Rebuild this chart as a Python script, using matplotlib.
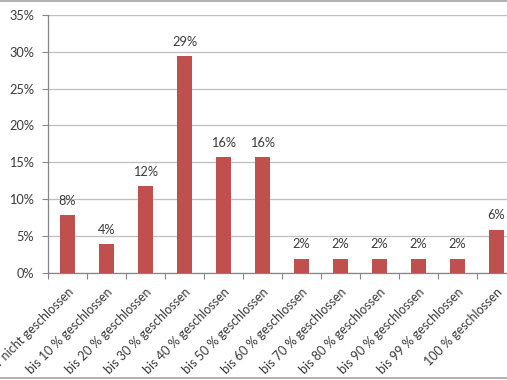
#!/usr/bin/env python3

import matplotlib
matplotlib.use("Agg")
import matplotlib.pyplot as plt
from matplotlib.lines import Line2D
from matplotlib.ticker import FuncFormatter, MultipleLocator
import numpy as np

categories = ["gar nicht geschlossen", "bis 10 % geschlossen", "bis 20 % geschlossen",
              "bis 30 % geschlossen", "bis 40 % geschlossen", "bis 50 % geschlossen",
              "bis 60 % geschlossen", "bis 70 % geschlossen", "bis 80 % geschlossen",
              "bis 90 % geschlossen", "bis 99 % geschlossen", "100 % geschlossen"]
# share of answers in percent (counts out of 51)
shares = [7.84, 3.92, 11.76, 29.41, 15.69, 15.69, 1.96, 1.96, 1.96, 1.96, 1.96, 5.88]

plt.rcParams["font.family"] = ["Lato", "DejaVu Sans"]
text_col = "#3A3A3A"
bar_col = "#C0504D"
grid_col = "#BEBEBE"
axis_col = "#868686"

W, H = 507, 380
fig = plt.figure(figsize=(W / 100, H / 100), dpi=100)
# plot area runs past the right edge, like the cropped original
ax = fig.add_axes([48 / W, 107 / H, 468 / W, (273 - 14.7) / H])

x = np.arange(len(categories))
ax.bar(x, shares, width=0.4, color=bar_col, zorder=3)

for xi, v in zip(x, shares):
    ax.annotate(f"{round(v):.0f}%", (xi, v), xytext=(0, 6), textcoords="offset points",
                ha="center", va="bottom", fontsize=9.2, color=text_col)

ax.set_xlim(-0.5, len(categories) - 0.5)
ax.set_ylim(0, 35)
ax.yaxis.set_major_locator(MultipleLocator(5))
ax.yaxis.set_major_formatter(FuncFormatter(lambda v, p: f"{v:.0f}%"))
ax.grid(axis="y", color=grid_col, linewidth=0.9, zorder=0)

ax.set_xticks(x)
ax.set_xticklabels(categories, rotation=45, ha="right", rotation_mode="anchor",
                   fontsize=9, color=text_col)
ax.set_xticks(np.arange(len(categories) + 1) - 0.5, minor=True)
ax.tick_params(axis="x", which="major", length=0, pad=9)
ax.tick_params(axis="x", which="minor", length=4, color=axis_col, width=0.8)
ax.tick_params(axis="y", length=4, color=axis_col, width=0.8, labelsize=9.2,
               labelcolor=text_col, pad=6)

for side in ["top", "right"]:
    ax.spines[side].set_visible(False)
for side in ["left", "bottom"]:
    ax.spines[side].set_color(axis_col)
    ax.spines[side].set_linewidth(0.9)

# chart frame lines at top and bottom
fig.add_artist(Line2D([0, 1], [1 - 1 / H, 1 - 1 / H], transform=fig.transFigure,
                      color="#A6A6A6", linewidth=1.2))
fig.add_artist(Line2D([0, 1], [2.5 / H, 2.5 / H], transform=fig.transFigure,
                      color="#A6A6A6", linewidth=1.2))

fig.savefig("out.png", dpi=100)
